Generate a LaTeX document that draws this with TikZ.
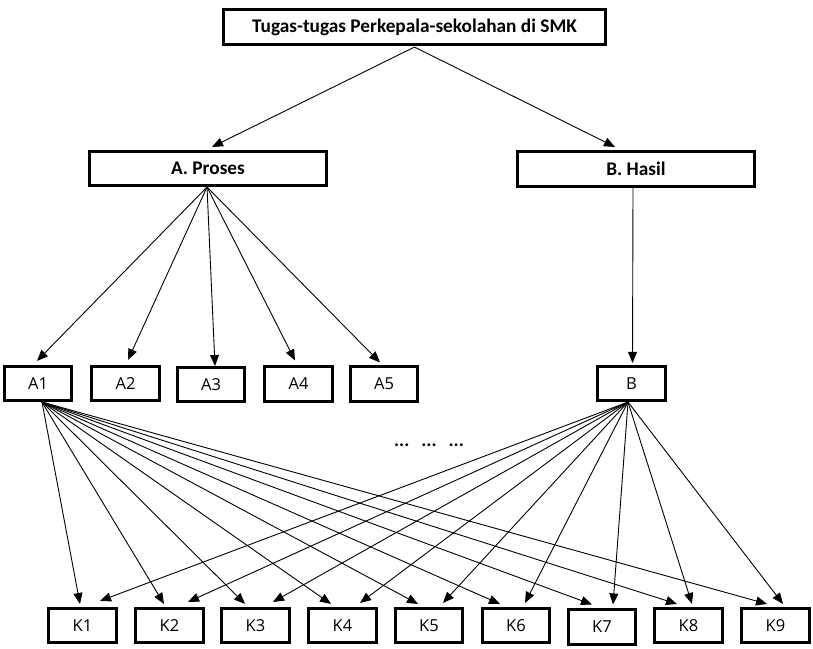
\documentclass[tikz,border=0pt]{standalone}
\usepackage{fontspec}
\setmainfont{Carlito}
\newfontfamily\labelfont{Open Sans}
\usetikzlibrary{arrows.meta,calc}

\tikzset{
  box/.style={draw, line width=2.6pt, inner sep=0pt, align=center},
  headbox/.style={box, font=\fontsize{19.3}{21}\selectfont\bfseries},
  smallbox/.style={box, minimum width=67.5pt, minimum height=34.5pt,
                   font=\labelfont\fontsize{16.5}{18}\selectfont},
  link/.style={line width=0.9pt, -{Triangle[length=11pt,width=9pt]}},
}

\begin{document}
\begin{tikzpicture}[x=1pt, y=-1pt]
  \useasboundingbox (0,0) rectangle (813,648);

  % top level
  \node[headbox, minimum width=382.5pt, minimum height=35.5pt] (top) at (414.5,27) {Tugas-tugas Perkepala-sekolahan di SMK};

  % second level
  \node[headbox, minimum width=237.5pt, minimum height=34.5pt] (proses) at (208,168.5) {A. Proses};
  \node[headbox, minimum width=237.5pt, minimum height=35.5pt] (hasil) at (636,169) {B. Hasil};

  % third level
  \node[smallbox] (a1) at (38,383.5) {A1};
  \node[smallbox] (a2) at (125.5,383.5) {A2};
  \node[smallbox] (a3) at (211,384.5) {A3};
  \node[smallbox] (a4) at (298.5,384) {A4};
  \node[smallbox] (a5) at (384,384) {A5};
  \node[smallbox] (b) at (631.5,383.5) {B};

  \node[font=\bfseries\fontsize{19}{21}\selectfont, anchor=base, inner sep=0pt] (dots) at (429,446)
    {...\hspace{12pt}...\hspace{12pt}...};

  % bottom level
  \node[smallbox] (k1) at (82.5,625.5) {K1};
  \node[smallbox] (k2) at (169.5,625.5) {K2};
  \node[smallbox] (k3) at (255.5,625.5) {K3};
  \node[smallbox] (k4) at (342.5,625.5) {K4};
  \node[smallbox] (k5) at (429,625.5) {K5};
  \node[smallbox] (k6) at (516,625.5) {K6};
  \node[smallbox] (k7) at (602,627) {K7};
  \node[smallbox] (k8) at (688.5,625.5) {K8};
  \node[smallbox] (k9) at (775.5,625.5) {K9};

  % top -> second level
  \draw[link] ($(top.south)+(0,1)$) -- ($(proses.north)+(4,-3)$);
  \draw[link] ($(top.south)+(0,1)$) -- ($(hasil.north)+(-21,-3)$);

  % A. Proses -> A1..A5
  \coordinate (ps) at ($(proses.south)+(-1,0)$);
  \draw[link] (ps) -- ($(a1.north)+(-1,-4)$);
  \draw[link] (ps) -- ($(a2.north)+(2.5,-5)$);
  \draw[link] (ps) -- ($(a3.north)+(4,0)$);
  \draw[link] (ps) -- ($(a4.north)+(-3.5,-5)$);
  \draw[link] (ps) -- ($(a5.north)+(-4,-3)$);

  % B. Hasil -> B
  \draw[link] ($(hasil.south)+(-3,0)$) -- ($(b.north)+(1,-2)$);

  % A1 -> K1..K9
  \coordinate (as) at ($(a1.south)+(4,0)$);
  \draw[link] (as) -- ($(k1.north)+(-2.5,-3)$);
  \draw[link] (as) -- ($(k2.north)+(-5.5,-3)$);
  \draw[link] (as) -- ($(k3.north)+(-10.5,-3)$);
  \draw[link] (as) -- ($(k4.north)+(-11.5,-3)$);
  \draw[link] (as) -- ($(k5.north)+(-11,-3)$);
  \draw[link] (as) -- ($(k6.north)+(-16,-3)$);
  \draw[link] (as) -- ($(k7.north)+(-10,-4)$);
  \draw[link] (as) -- ($(k8.north)+(-11.5,-3)$);
  \draw[link] (as) -- ($(k9.north)+(-8.5,-3)$);

  % B -> K1..K9
  \coordinate (bs) at ($(b.south)+(-3.5,0)$);
  \draw[link] (bs) -- ($(k1.north)+(17.5,-6)$);
  \draw[link] (bs) -- ($(k2.north)+(18.5,-5)$);
  \draw[link] (bs) -- ($(k3.north)+(17.5,-5)$);
  \draw[link] (bs) -- ($(k4.north)+(17.5,-4)$);
  \draw[link] (bs) -- ($(k5.north)+(14,-4)$);
  \draw[link] (bs) -- ($(k6.north)+(9,-4)$);
  \draw[link] (bs) -- ($(k7.north)+(11,-4)$);
  \draw[link] (bs) -- ($(k8.north)+(3.5,-3)$);
  \draw[link] (bs) -- ($(k9.north)+(7.5,-3)$);
\end{tikzpicture}
\end{document}
